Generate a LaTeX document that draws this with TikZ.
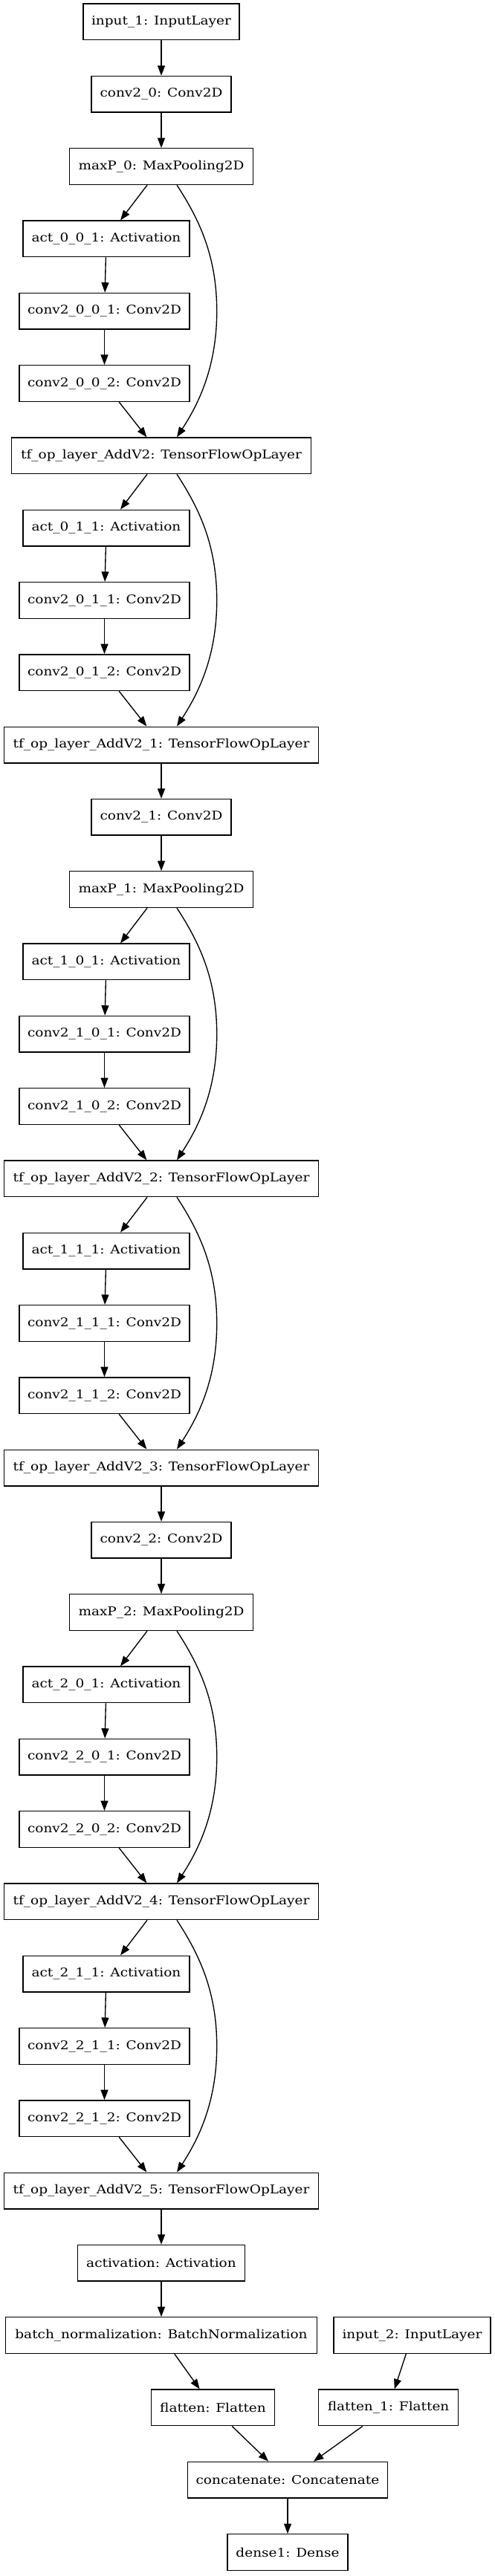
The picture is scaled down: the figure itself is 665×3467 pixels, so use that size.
\documentclass[tikz,border=0pt]{standalone}
\usepackage{fontspec}
\setmainfont{DejaVu Serif}[FakeStretch=1.14]
\usetikzlibrary{arrows.meta,calc}
\newcommand{\ry}[1]{29.5+97.3*#1}
\newcommand{\skipedge}[3]{\draw[arr] ($(#1.south)+(21,0)$) .. controls +(30,46) and +(0,-74) .. ($(#2.east)+(36,0)$) .. controls +(0,74) and +(30,-46) .. ($(#3.north)+(21,0)$);}
\tikzset{
  box/.style={draw, line width=1pt, rectangle, minimum height=36pt, inner sep=0pt, font=\fontsize{12}{14}\selectfont},
  arr/.style={line width=1pt, -{Triangle[length=10pt,width=7.4pt]}},
  winput/.style={box, minimum width=155.4pt},
  wconv/.style={box, minimum width=139pt},
  wmax/.style={box, minimum width=182.8pt},
  wact/.style={box, minimum width=165.8pt},
  wcc/.style={box, minimum width=169.5pt},
  wadd/.style={box, minimum width=297.9pt},
  waddn/.style={box, minimum width=313.4pt},
}
\begin{document}
\begin{tikzpicture}[x=0.74pt,y=-0.74pt]
\useasboundingbox (0,0) rectangle (665,3467);
% main column
\node[winput] (in1) at (217,{\ry{0}}) {input\_1: InputLayer};
% stage 0
\node[wconv] (c0) at (217,{\ry{1}}) {conv2\_0: Conv2D};
\node[wmax] (m0) at (217,{\ry{2}}) {maxP\_0: MaxPooling2D};
\node[wact] (a001) at (143,{\ry{3}}) {act\_0\_0\_1: Activation};
\node[wcc] (c001) at (140.5,{\ry{4}}) {conv2\_0\_0\_1: Conv2D};
\node[wcc] (c002) at (140.5,{\ry{5}}) {conv2\_0\_0\_2: Conv2D};
\node[wadd] (add0) at (217,{\ry{6}}) {tf\_op\_layer\_AddV2: TensorFlowOpLayer};
\node[wact] (a011) at (143,{\ry{7}}) {act\_0\_1\_1: Activation};
\node[wcc] (c011) at (140.5,{\ry{8}}) {conv2\_0\_1\_1: Conv2D};
\node[wcc] (c012) at (140.5,{\ry{9}}) {conv2\_0\_1\_2: Conv2D};
\node[waddn] (add1) at (217,{\ry{10}}) {tf\_op\_layer\_AddV2\_1: TensorFlowOpLayer};
% stage 1
\node[wconv] (c1) at (217,{\ry{11}}) {conv2\_1: Conv2D};
\node[wmax] (m1) at (217,{\ry{12}}) {maxP\_1: MaxPooling2D};
\node[wact] (a101) at (143,{\ry{13}}) {act\_1\_0\_1: Activation};
\node[wcc] (c101) at (140.5,{\ry{14}}) {conv2\_1\_0\_1: Conv2D};
\node[wcc] (c102) at (140.5,{\ry{15}}) {conv2\_1\_0\_2: Conv2D};
\node[waddn] (add2) at (217,{\ry{16}}) {tf\_op\_layer\_AddV2\_2: TensorFlowOpLayer};
\node[wact] (a111) at (143,{\ry{17}}) {act\_1\_1\_1: Activation};
\node[wcc] (c111) at (140.5,{\ry{18}}) {conv2\_1\_1\_1: Conv2D};
\node[wcc] (c112) at (140.5,{\ry{19}}) {conv2\_1\_1\_2: Conv2D};
\node[waddn] (add3) at (217,{\ry{20}}) {tf\_op\_layer\_AddV2\_3: TensorFlowOpLayer};
% stage 2
\node[wconv] (c2) at (217,{\ry{21}}) {conv2\_2: Conv2D};
\node[wmax] (m2) at (217,{\ry{22}}) {maxP\_2: MaxPooling2D};
\node[wact] (a201) at (143,{\ry{23}}) {act\_2\_0\_1: Activation};
\node[wcc] (c201) at (140.5,{\ry{24}}) {conv2\_2\_0\_1: Conv2D};
\node[wcc] (c202) at (140.5,{\ry{25}}) {conv2\_2\_0\_2: Conv2D};
\node[waddn] (add4) at (217,{\ry{26}}) {tf\_op\_layer\_AddV2\_4: TensorFlowOpLayer};
\node[wact] (a211) at (143,{\ry{27}}) {act\_2\_1\_1: Activation};
\node[wcc] (c211) at (140.5,{\ry{28}}) {conv2\_2\_1\_1: Conv2D};
\node[wcc] (c212) at (140.5,{\ry{29}}) {conv2\_2\_1\_2: Conv2D};
\node[waddn] (add5) at (217,{\ry{30}}) {tf\_op\_layer\_AddV2\_5: TensorFlowOpLayer};
% tail
\node[box, minimum width=166.5pt] (act) at (217,{\ry{31}}) {activation: Activation};
\node[box, minimum width=310pt] (bn) at (217,{\ry{32}}) {batch\_normalization: BatchNormalization};
\node[box, minimum width=156pt] (in2) at (554.5,{\ry{32}}) {input\_2: InputLayer};
\node[box, minimum width=122.5pt] (fl) at (286.5,{\ry{33}}) {flatten: Flatten};
\node[box, minimum width=139pt] (fl1) at (522.6,{\ry{33}}) {flatten\_1: Flatten};
\node[box, minimum width=199.4pt] (cat) at (387,{\ry{34}}) {concatenate: Concatenate};
\node[box, minimum width=120pt] (dense) at (387,{\ry{35}}) {dense1: Dense};
% edges
\draw[arr] (in1) -- (c0);
\foreach \s/\a/\b in {0/add0/add1, 1/add2/add3, 2/add4/add5} {
  \draw[arr] (c\s) -- (m\s);
  \draw[arr] (m\s) -- (a\s01);
  \draw[arr] (a\s01) -- (c\s01);
  \draw[arr] (c\s01) -- (c\s02);
  \draw[arr] (c\s02) -- (\a);
  \skipedge{m\s}{c\s01}{\a}
  \draw[arr] (\a) -- (a\s11);
  \draw[arr] (a\s11) -- (c\s11);
  \draw[arr] (c\s11) -- (c\s12);
  \draw[arr] (c\s12) -- (\b);
  \skipedge{\a}{c\s11}{\b}
}
\draw[arr] (add1) -- (c1);
\draw[arr] (add3) -- (c2);
\draw[arr] (add5) -- (act);
\draw[arr] (act) -- (bn);
\draw[arr] (bn) -- (fl);
\draw[arr] (in2) -- (fl1);
\draw[arr] (fl) -- (cat);
\draw[arr] (fl1) -- (cat);
\draw[arr] (cat) -- (dense);
\end{tikzpicture}
\end{document}
